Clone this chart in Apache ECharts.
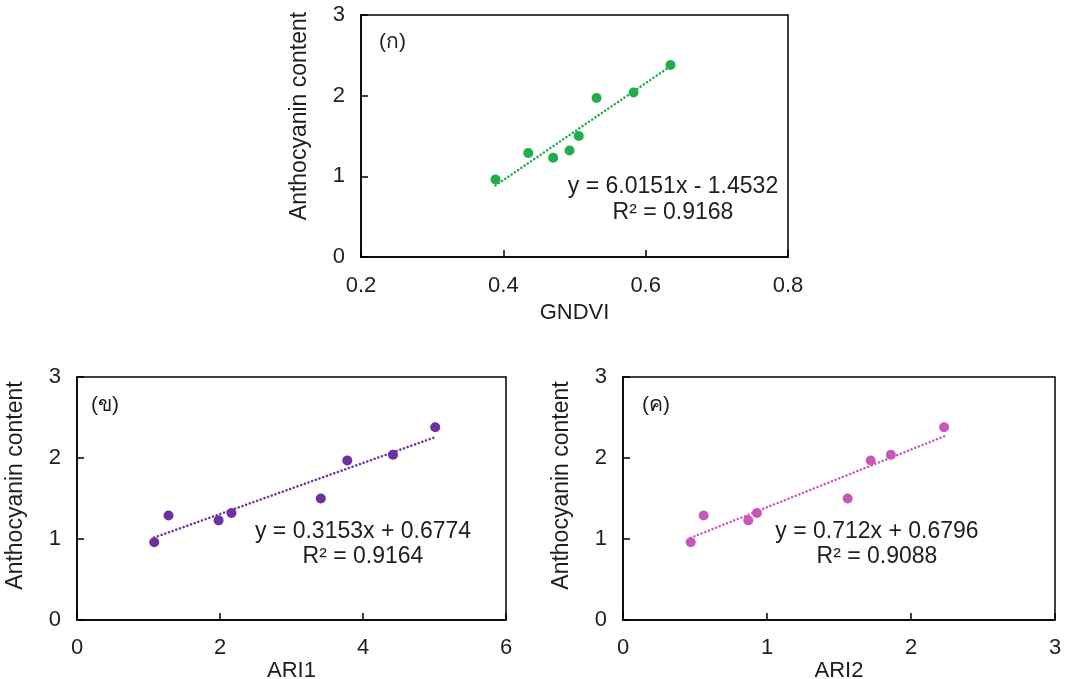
<!DOCTYPE html>
<html>
<head>
<meta charset="utf-8">
<script src="https://cdn.jsdelivr.net/npm/echarts@6/dist/echarts.min.js"></script>
<style>
html,body{margin:0;padding:0;background:#fff;}
#c{width:1074px;height:679px;}
</style>
</head>
<body>
<div id="c"></div>
<script>
// ---- data ----
const anthocyanin = [0.96, 1.29, 1.23, 1.32, 1.50, 1.97, 2.04, 2.38];
const gndvi = [0.389, 0.435, 0.470, 0.493, 0.506, 0.531, 0.583, 0.635];
const ari1 = [1.08, 1.28, 1.98, 2.16, 3.41, 3.78, 4.42, 5.01];
const ari2 = [0.47, 0.56, 0.87, 0.93, 1.56, 1.72, 1.86, 2.23];
const slopes = [6.0151, 0.3153, 0.712];
const intercepts = [-1.4532, 0.6774, 0.6796];
const eqTexts = ['y = 6.0151x - 1.4532', 'y = 0.3153x + 0.6774', 'y = 0.712x + 0.6796'];
const r2Texts = ['R² = 0.9168', 'R² = 0.9164', 'R² = 0.9088'];
const panelLabels = ['(ก)', '(ข)', '(ค)'];
const xNames = ['GNDVI', 'ARI1', 'ARI2'];
const yName = 'Anthocyanin content';
const xMin = [0.2, 0, 0], xMax = [0.8, 6, 3], xInt = [0.2, 2, 1];
const yMin = 0, yMax = 3, yInt = 1;
const colors = ['#1fae4b', '#7030a0', '#c957b8'];

const FONT = '"Liberation Sans", Arial, "Noto Sans", "DejaVu Sans", sans-serif';
const TXT = '#1e1e1e';
const xs = [gndvi, ari1, ari2];
const grids = [
  {left: 361, top: 15, width: 427, height: 242},
  {left: 77, top: 377, width: 429, height: 243},
  {left: 623, top: 377, width: 432, height: 243}
];
const xNameGap = [45, 38, 38];

const option = {
  backgroundColor: '#fff',
  animation: false,
  grid: grids.map(g => Object.assign({show: true, borderColor: '#000', borderWidth: 1.5, backgroundColor: 'transparent', containLabel: false, outerBoundsMode: 'none'}, g)),
  xAxis: grids.map((g, i) => ({
    type: 'value', gridIndex: i, min: xMin[i], max: xMax[i], interval: xInt[i],
    name: xNames[i], nameLocation: 'middle', nameGap: xNameGap[i],
    nameTextStyle: {fontFamily: FONT, fontSize: 22, color: TXT},
    axisLine: {show: true, lineStyle: {color: '#000', width: 1.5}},
    axisTick: {show: true, inside: true, length: 7, lineStyle: {color: '#000', width: 1.5}},
    axisLabel: {fontFamily: FONT, fontSize: 22, color: TXT, margin: i === 0 ? 18 : 17},
    splitLine: {show: false}
  })),
  yAxis: grids.map((g, i) => ({
    type: 'value', gridIndex: i, min: yMin, max: yMax, interval: yInt,
    name: yName, nameLocation: 'middle', nameGap: 50,
    nameTextStyle: {fontFamily: FONT, fontSize: 23, color: TXT, padding: [0, 0, 0, i === 0 ? 40 : 26]},
    axisLine: {show: true, lineStyle: {color: '#000', width: 1.5}},
    axisTick: {show: true, inside: true, length: 7, lineStyle: {color: '#000', width: 1.5}},
    axisLabel: {fontFamily: FONT, fontSize: 22, color: TXT, margin: 16},
    splitLine: {show: false}
  })),
  series: [],
  graphic: []
};

xs.forEach((xv, i) => {
  const lo = Math.min(...xv), hi = Math.max(...xv);
  option.series.push({
    type: 'line', xAxisIndex: i, yAxisIndex: i, showSymbol: false, silent: true,
    data: [[lo, slopes[i] * lo + intercepts[i]], [hi, slopes[i] * hi + intercepts[i]]],
    lineStyle: {color: colors[i], width: 2.5, type: [0.1, 3.8], cap: 'round'},
    z: 2
  });
  option.series.push({
    type: 'scatter', xAxisIndex: i, yAxisIndex: i, symbolSize: 10,
    data: xv.map((x, k) => [x, anthocyanin[k]]),
    itemStyle: {color: colors[i], opacity: 1},
    z: 3
  });
});

// annotations
const eqPos = [[673, 187, 213], [363, 532, 557], [877, 532, 557]];
const lblPos = [[379, 42], [91, 405], [642, 405]];
for (let i = 0; i < 3; i++) {
  option.graphic.push({type: 'text', x: eqPos[i][0], y: eqPos[i][1], style: {text: eqTexts[i], font: '23px ' + FONT, fill: TXT, align: 'center', verticalAlign: 'middle'}, z: 10});
  option.graphic.push({type: 'text', x: eqPos[i][0], y: eqPos[i][2], style: {text: r2Texts[i], font: '23px ' + FONT, fill: TXT, align: 'center', verticalAlign: 'middle'}, z: 10});
  option.graphic.push({type: 'text', x: lblPos[i][0], y: lblPos[i][1], style: {text: panelLabels[i], font: '21px ' + FONT, fill: TXT, align: 'left', verticalAlign: 'middle'}, z: 10});
}

const chart = echarts.init(document.getElementById('c'), null, {renderer: 'canvas'});
chart.setOption(option);
</script>
</body>
</html>
